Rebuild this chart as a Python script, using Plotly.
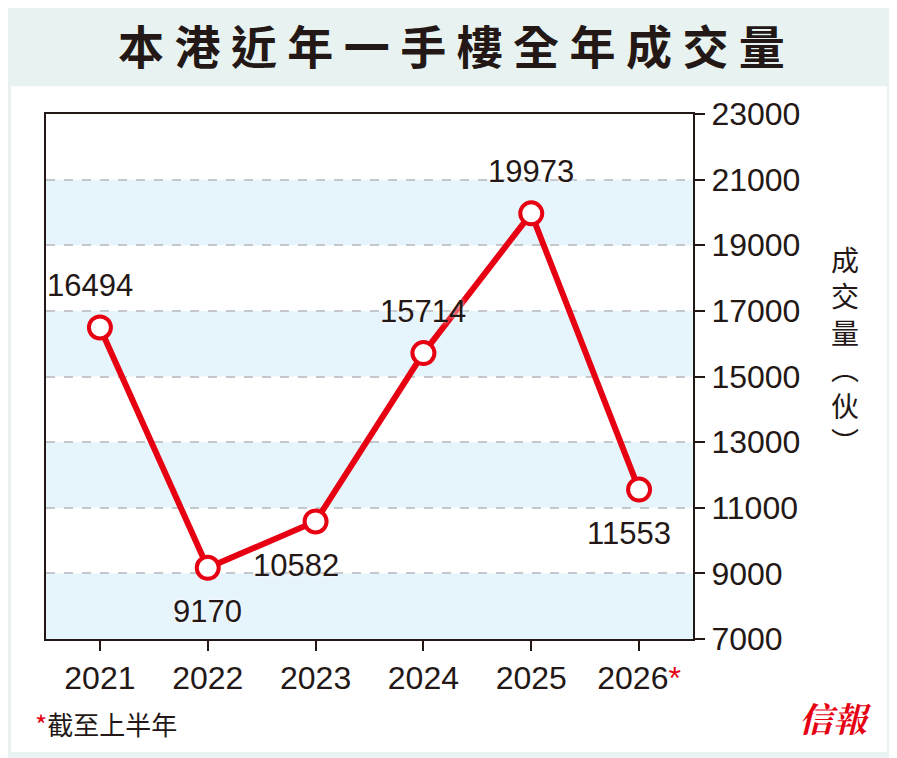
import plotly.graph_objects as go

years = [2021, 2022, 2023, 2024, 2025, 2026]
values = [16494, 9170, 10582, 15714, 19973, 11553]
tick_labels = ["2021", "2022", "2023", "2024", "2025", "2026<span style='color:#e60012'>*</span>"]
y_ticks = [7000, 9000, 11000, 13000, 15000, 17000, 19000, 21000, 23000]
label_pos = [("above", -10), ("below", 0), ("below", -20), ("above", 0), ("above", 0), ("below", -10)]

RED = "#e60012"
FONT = "Liberation Sans, Arial, sans-serif"
CJK = "Noto Sans CJK TC, sans-serif"

fig = go.Figure()
fig.add_trace(go.Scatter(
    x=years, y=values, mode="lines+markers",
    line=dict(color=RED, width=6),
    marker=dict(size=22, color="white", line=dict(color=RED, width=4)),
    cliponaxis=False, hoverinfo="skip"))

shapes = []
shapes.append(dict(type="rect", xref="paper", yref="paper", x0=-0.054, x1=1.3, y0=-0.215, y1=1.053,
                   fillcolor="white", line_width=0, layer="below"))
for lo in [7000, 11000, 15000, 19000]:
    shapes.append(dict(type="rect", xref="paper", yref="y", x0=0, x1=1, y0=lo, y1=lo + 2000,
                       fillcolor="#e6f4fc", line_width=0, layer="below"))

ann = []
for x, v, (pos, dx) in zip(years, values, label_pos):
    ann.append(dict(x=x, y=v, text=str(v), showarrow=False, xshift=dx,
                    yshift=42 if pos == "above" else -44,
                    font=dict(family=FONT, size=31, color="#231815", shadow="0px 0px 4px white")))
ann.append(dict(xref="paper", yref="paper", x=0.5, y=1.2, xanchor="center", text="<b>本 港 近 年 一 手 樓 全 年 成 交 量</b>",
                showarrow=False, font=dict(family=CJK, size=46, color="#231815"), xshift=82))
ann.append(dict(xref="paper", yref="paper", x=1.26, y=0.55, text="成<br>交<br>量<br>︵<br>伙<br>︶",
                showarrow=False, font=dict(family=CJK, size=28, color="#231815")))
ann.append(dict(xref="paper", yref="paper", x=-0.02, y=-0.2, xanchor="left",
                text="<span style='color:#e60012'>*</span>截至上半年",
                showarrow=False, font=dict(family=CJK, size=26, color="#231815")))
ann.append(dict(xref="paper", yref="paper", x=1.28, y=-0.2, xanchor="right",
                text="<b><i>信報</i></b>", showarrow=False,
                font=dict(family="Noto Serif CJK TC, Noto Sans CJK TC", size=34, color=RED)))

fig.update_layout(
    width=897, height=758,
    paper_bgcolor="#e8f3f1", plot_bgcolor="white",
    margin=dict(l=38, r=212, t=106, b=127),
    showlegend=False, shapes=shapes, annotations=ann,
    xaxis=dict(range=[2020.5, 2026.5], tickvals=years, ticktext=tick_labels,
               ticks="outside", ticklen=10, tickwidth=2, tickcolor="#231815",
               showline=True, linecolor="#231815", linewidth=2, mirror=True, showgrid=False,
               tickfont=dict(family=FONT, size=32, color="#231815"), fixedrange=True),
    yaxis=dict(range=[7000, 23000], tickvals=y_ticks, ticktext=[str(t) for t in y_ticks], side="right",
               ticks="outside", ticklen=10, tickwidth=2, tickcolor="#231815",
               showline=True, linecolor="#231815", linewidth=2, mirror=True,
               showgrid=True, gridcolor="#c4c8cc", griddash="dash", gridwidth=1.5, zeroline=False,
               tickfont=dict(family=FONT, size=32, color="#231815"), fixedrange=True),
)
fig.write_html("out.html")
